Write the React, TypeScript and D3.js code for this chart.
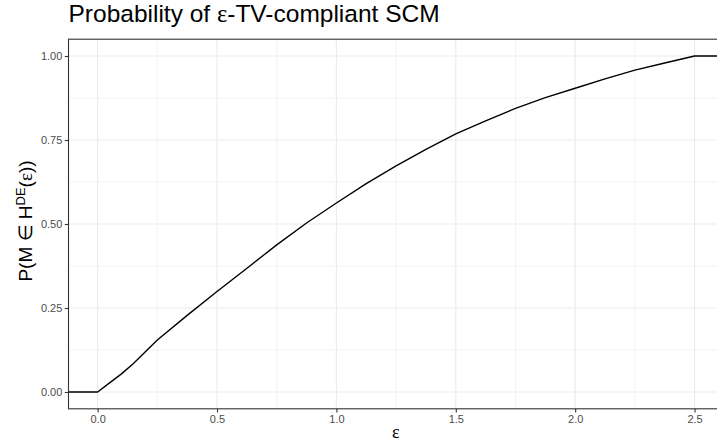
import { useEffect, useRef } from "react";
import * as d3 from "d3";

// epsilon values and estimated probability
const epsilon = [-0.3, 0, 0.05, 0.1, 0.15, 0.2, 0.25, 0.375, 0.5, 0.6375, 0.75, 0.875, 1.0, 1.125, 1.25, 1.375, 1.5, 1.625, 1.75, 1.875, 2.0, 2.125, 2.25, 2.375, 2.5, 2.8];
const prob = [0, 0, 0.027, 0.054, 0.085, 0.12, 0.155, 0.228, 0.299, 0.375, 0.438, 0.503, 0.5625, 0.62, 0.673, 0.722, 0.768, 0.807, 0.844, 0.876, 0.904, 0.932, 0.958, 0.979, 1.0, 1.0];

const xTicks = [0, 0.5, 1.0, 1.5, 2.0, 2.5];
const xMinor = [0.25, 0.75, 1.25, 1.75, 2.25];
const yTicks = [0, 0.25, 0.5, 0.75, 1.0];
const yMinor = [0.125, 0.375, 0.625, 0.875];

const FONT = "'Liberation Sans', Arial, Helvetica, sans-serif";
const SYMBOL = "'Liberation Serif', 'DejaVu Serif', serif";

export default function App() {
  const svgRef = useRef<SVGSVGElement>(null);

  useEffect(() => {
    if (!svgRef.current) return;
    const svg = d3.select(svgRef.current);
    svg.selectAll("*").remove();

    const width = 717;
    const height = 442;
    const left = 68.5;
    const right = 718; // panel runs off the right edge
    const top = 39.2;
    const bottom = 408.8;

    const x = d3.scaleLinear().domain([-0.122, 2.594]).range([left, 717]);
    const y = d3.scaleLinear().domain([-0.05, 1.05]).range([bottom, top]);

    svg.attr("width", width).attr("height", height);

    svg.append("rect").attr("width", width).attr("height", height).attr("fill", "white");

    const clipId = "panel-clip";
    svg
      .append("clipPath")
      .attr("id", clipId)
      .append("rect")
      .attr("x", left)
      .attr("y", top)
      .attr("width", right - left)
      .attr("height", bottom - top);

    const panel = svg.append("g").attr("clip-path", `url(#${clipId})`);

    // minor grid
    panel
      .selectAll(".xminor")
      .data(xMinor)
      .enter()
      .append("line")
      .attr("x1", (d) => x(d))
      .attr("x2", (d) => x(d))
      .attr("y1", top)
      .attr("y2", bottom)
      .attr("stroke", "#ebebeb")
      .attr("stroke-width", 0.6);
    panel
      .selectAll(".yminor")
      .data(yMinor)
      .enter()
      .append("line")
      .attr("x1", left)
      .attr("x2", right)
      .attr("y1", (d) => y(d))
      .attr("y2", (d) => y(d))
      .attr("stroke", "#ebebeb")
      .attr("stroke-width", 0.6);

    // major grid
    panel
      .selectAll(".xmajor")
      .data(xTicks)
      .enter()
      .append("line")
      .attr("x1", (d) => x(d))
      .attr("x2", (d) => x(d))
      .attr("y1", top)
      .attr("y2", bottom)
      .attr("stroke", "#ebebeb")
      .attr("stroke-width", 1.1);
    panel
      .selectAll(".ymajor")
      .data(yTicks)
      .enter()
      .append("line")
      .attr("x1", left)
      .attr("x2", right)
      .attr("y1", (d) => y(d))
      .attr("y2", (d) => y(d))
      .attr("stroke", "#ebebeb")
      .attr("stroke-width", 1.1);

    // curve
    const pts = epsilon.map((e, i) => [e, prob[i]] as [number, number]);
    const line = d3
      .line<[number, number]>()
      .x((d) => x(d[0]))
      .y((d) => y(d[1]));
    panel
      .append("path")
      .datum(pts)
      .attr("d", line)
      .attr("fill", "none")
      .attr("stroke", "black")
      .attr("stroke-width", 1.4)
      .attr("stroke-linejoin", "round");

    // panel border
    svg
      .append("rect")
      .attr("x", left)
      .attr("y", top)
      .attr("width", right - left)
      .attr("height", bottom - top)
      .attr("fill", "none")
      .attr("stroke", "#333333")
      .attr("stroke-width", 1.1);

    // x axis
    const xAxis = svg
      .append("g")
      .attr("transform", `translate(0,${bottom})`)
      .call(
        d3
          .axisBottom(x)
          .tickValues(xTicks)
          .tickFormat(d3.format(".1f"))
          .tickSize(3.7)
          .tickPadding(2.5)
      );
    xAxis.select(".domain").remove();
    xAxis.selectAll("line").attr("stroke", "#333333").attr("stroke-width", 1.1);
    xAxis
      .selectAll("text")
      .attr("fill", "#4d4d4d")
      .attr("font-family", FONT)
      .attr("font-size", 11);

    // y axis
    const yAxis = svg
      .append("g")
      .attr("transform", `translate(${left},0)`)
      .call(
        d3
          .axisLeft(y)
          .tickValues(yTicks)
          .tickFormat(d3.format(".2f"))
          .tickSize(3.7)
          .tickPadding(2.5)
      );
    yAxis.select(".domain").remove();
    yAxis.selectAll("line").attr("stroke", "#333333").attr("stroke-width", 1.1);
    yAxis
      .selectAll("text")
      .attr("fill", "#4d4d4d")
      .attr("font-family", FONT)
      .attr("font-size", 11);

    // title
    const title = svg
      .append("text")
      .attr("x", left)
      .attr("y", 22)
      .attr("font-family", FONT)
      .attr("font-size", 24.5)
      .attr("fill", "black");
    title.append("tspan").text("Probability of ");
    title.append("tspan").attr("font-family", SYMBOL).text("ε");
    title.append("tspan").text("-TV-compliant SCM");

    // x label
    svg
      .append("text")
      .attr("x", (left + 717) / 2 + 3)
      .attr("y", 438)
      .attr("text-anchor", "middle")
      .attr("font-family", SYMBOL)
      .attr("font-size", 18)
      .attr("fill", "black")
      .text("ε");

    // y label with superscript
    const yl = svg
      .append("text")
      .attr("transform", `translate(32,${(top + bottom) / 2 - 3}) rotate(-90)`)
      .attr("text-anchor", "middle")
      .attr("font-family", FONT)
      .attr("font-size", 19)
      .attr("fill", "black");
    yl.append("tspan").text("P(M ∈ H");
    yl.append("tspan").attr("font-size", 13).attr("dy", -7).text("DE");
    yl.append("tspan").attr("dy", 7).text("(");
    yl.append("tspan").attr("font-family", SYMBOL).text("ε");
    yl.append("tspan").text("))");
  }, []);

  return (
    <div style={{ position: "absolute", left: 0, top: 0 }}>
      <svg ref={svgRef}></svg>
    </div>
  );
}
